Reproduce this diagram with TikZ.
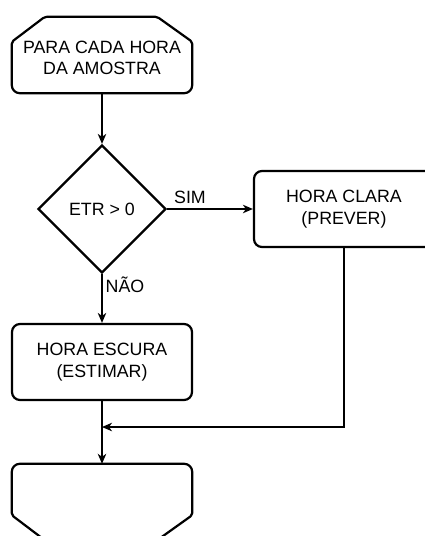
\documentclass[tikz,border=0pt]{standalone}
\usepackage{fontspec}
\setmainfont{Liberation Sans}
\usetikzlibrary{shapes.geometric,arrows.meta,calc}
\begin{document}
\begin{tikzpicture}[x=1pt,y=-1pt,
  every node/.style={font=\fontsize{17.8}{21.5}\selectfont, align=center},
  stepbox/.style={draw, line width=2.2pt, rounded corners=8pt,
    minimum width=180pt, minimum height=76pt, inner sep=0pt},
  limitbox/.style={minimum width=180pt, minimum height=76pt, inner sep=0pt},
  limitline/.style={line width=2.2pt, line join=round},
  decision/.style={draw, diamond, line width=2.2pt, minimum width=128pt,
    minimum height=128pt, inner sep=0pt},
  flow/.style={line width=1.4pt, -{Stealth[length=10pt,width=8.5pt,inset=3pt]}},
  flowlabel/.style={inner sep=0pt}
]
\useasboundingbox (0,0) rectangle (424,536);

% loop start: cut corners on top, rounded corners below
\node[limitbox] (start) at (102,55) {};
\node[flowlabel] (starttext) at (102,58) {PARA CADA HORA\\DA AMOSTRA};
\draw[limitline, rounded corners=2pt]
  (start.west) -- ($(start.north west)+(0,25)$) -- ($(start.north west)+(33,0)$)
  -- ($(start.north east)+(-35,0)$) -- ($(start.north east)+(0,25)$)
  [rounded corners=8pt] -- (start.south east) -- (start.south west) -- cycle;

% decision
\node[decision] (test) at (102,209) {ETR > 0};

% the two branches
\node[stepbox] (clear) at (344,209) {HORA CLARA\\(PREVER)};
\node[stepbox] (dark) at (102,362) {HORA ESCURA\\(ESTIMAR)};

% loop end: rounded corners on top, cut corners below
\node[limitbox] (stop) at (102,502) {};
\draw[limitline, rounded corners=8pt]
  (stop.west) -- (stop.north west) -- (stop.north east)
  [rounded corners=2pt] -- ($(stop.south east)+(0,-25)$)
  -- ($(stop.south east)+(-35,0)$) -- ($(stop.south west)+(33,0)$)
  -- ($(stop.south west)+(0,-25)$) -- cycle;

% connectors
\coordinate (merge) at (102,427);
\draw[flow] (start) -- (test);
\draw[flow] (test.east) -- (clear.west);
\draw[flow] (test.south) -- (dark.north);
\draw[flow] (dark.south) -- (stop.north);
\draw[flow] (clear.south) |- (merge);

% branch labels
\node[flowlabel] (yes) at (190,197) {SIM};
\node[flowlabel] (no) at (125,285) {NÃO};
\end{tikzpicture}
\end{document}
